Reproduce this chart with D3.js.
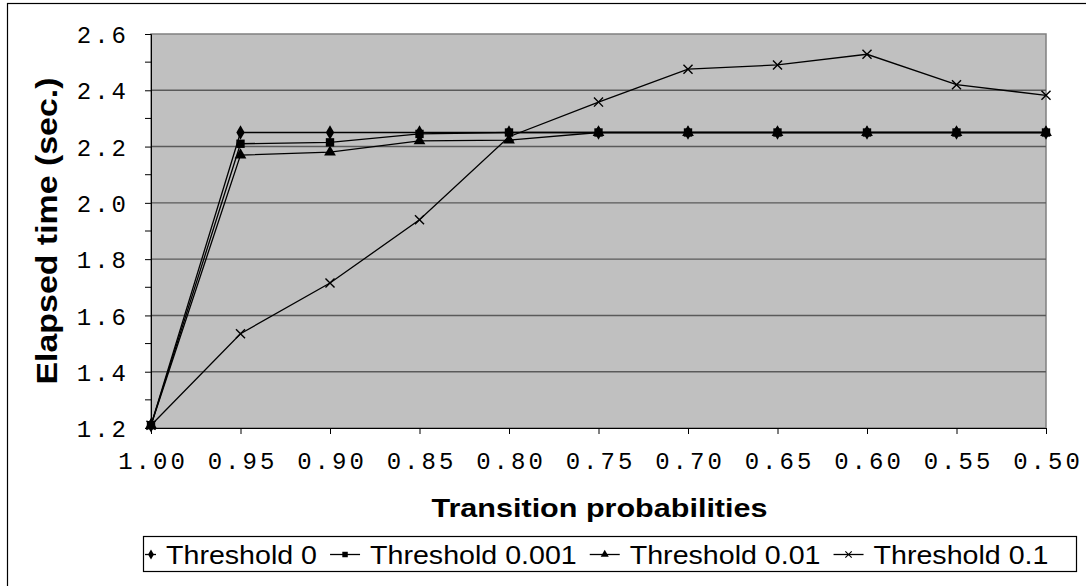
<!DOCTYPE html>
<html>
<head>
<meta charset="utf-8">
<script src="https://cdn.jsdelivr.net/npm/d3@7"></script>
<style>
  body { margin: 0; background: #fff; }
  svg { display: block; }
  .tick-label { font-family: "Liberation Mono", "Courier New", monospace; font-size: 24px; letter-spacing: 3px; fill: #000; }
  .axis-title { font-family: "Liberation Sans", Arial, sans-serif; font-weight: bold; fill: #000; }
  .legend-text { font-family: "Liberation Sans", Arial, sans-serif; font-size: 26px; fill: #000; }
</style>
</head>
<body>
<svg id="chart" width="1086" height="586"></svg>
<script>
// x categories (transition probabilities) and elapsed times per threshold
const probs = [ 1.00, 0.95, 0.90, 0.85, 0.80, 0.75, 0.70, 0.65, 0.60, 0.55, 0.50 ];
const threshold0 = [ 1.21, 2.25, 2.25, 2.25, 2.25, 2.25, 2.25, 2.25, 2.25, 2.25, 2.25 ];
const threshold0001 = [ 1.21, 2.21, 2.215, 2.245, 2.25, 2.25, 2.25, 2.25, 2.25, 2.25, 2.25 ];
const threshold001 = [ 1.21, 2.17, 2.18, 2.22, 2.223, 2.25, 2.25, 2.25, 2.25, 2.25, 2.25 ];
const threshold01 = [ 1.21, 1.535, 1.715, 1.94, 2.235, 2.358, 2.475, 2.49, 2.528, 2.42, 2.382 ];
const seriesNames = [ 'Threshold 0', 'Threshold 0.001', 'Threshold 0.01', 'Threshold 0.1' ];
const yTicks = [ 1.2, 1.4, 1.6, 1.8, 2.0, 2.2, 2.4, 2.6 ];
const yMinorTicks = [ 1.3, 1.5, 1.7, 1.9, 2.1, 2.3, 2.5 ];

const series = [
    { name: seriesNames[ 0 ], values: threshold0, marker: 'diamond' },
    { name: seriesNames[ 1 ], values: threshold0001, marker: 'square' },
    { name: seriesNames[ 2 ], values: threshold001, marker: 'triangle' },
    { name: seriesNames[ 3 ], values: threshold01, marker: 'cross' }
];

const plot = { left: 151, top: 34, right: 1046, bottom: 428 };
const svg = d3.select( '#chart' );

// outer chart frame (runs off the right and bottom edge)
svg.append( 'rect' )
    .attr( 'x', 7.5 ).attr( 'y', 3.5 )
    .attr( 'width', 1100 ).attr( 'height', 600 )
    .attr( 'fill', '#fff' ).attr( 'stroke', '#000' ).attr( 'stroke-width', 1.2 );

const xScale = d3.scaleLinear().domain( [ 1.0, 0.5 ] ).range( [ plot.left, plot.right ] );
const yScale = d3.scaleLinear().domain( [ 1.2, 2.6 ] ).range( [ plot.bottom, plot.top ] );

// plot area
svg.append( 'rect' )
    .attr( 'x', plot.left ).attr( 'y', plot.top )
    .attr( 'width', plot.right - plot.left ).attr( 'height', plot.bottom - plot.top )
    .attr( 'fill', '#c0c0c0' ).attr( 'stroke', '#808080' ).attr( 'stroke-width', 1.5 );

// gridlines
svg.append( 'g' ).selectAll( 'line' ).data( yTicks.slice( 1, -1 ) )
    .enter().append( 'line' )
    .attr( 'x1', plot.left ).attr( 'x2', plot.right )
    .attr( 'y1', d => yScale( d ) ).attr( 'y2', d => yScale( d ) )
    .attr( 'stroke', '#5a5a5a' ).attr( 'stroke-width', 1.4 );

// y axis
const yAxis = d3.axisLeft( yScale ).tickValues( yTicks ).tickSize( 6 ).tickPadding( 16 )
    .tickFormat( d3.format( '.1f' ) );
const yAxisGroup = svg.append( 'g' )
    .attr( 'transform', `translate(${plot.left},0)` )
    .call( yAxis );
yAxisGroup.append( 'g' ).selectAll( 'line' ).data( yMinorTicks )
    .enter().append( 'line' )
    .attr( 'x1', -6 ).attr( 'x2', 0 )
    .attr( 'y1', d => yScale( d ) ).attr( 'y2', d => yScale( d ) )
    .attr( 'stroke', '#000' );

// x axis
const xAxis = d3.axisBottom( xScale ).tickValues( probs ).tickSize( 6 ).tickPadding( 18 )
    .tickFormat( d3.format( '.2f' ) );
const xAxisGroup = svg.append( 'g' )
    .attr( 'transform', `translate(0,${plot.bottom})` )
    .call( xAxis );

[ yAxisGroup, xAxisGroup ].forEach( g => {
    g.select( '.domain' ).attr( 'stroke', '#000' ).attr( 'stroke-width', 1 );
    g.selectAll( '.tick line' ).attr( 'stroke', '#000' );
    g.selectAll( '.tick text' ).attr( 'class', 'tick-label' ).attr( 'font-size', null ).attr( 'font-family', null );
} );
yAxisGroup.selectAll( '.tick text' ).attr( 'dy', '0.36em' );
xAxisGroup.selectAll( '.tick text' ).attr( 'dy', '0.71em' ).attr( 'dx', 1.5 );

// series lines
const line = d3.line()
    .x( ( d, i ) => xScale( probs[ i ] ) )
    .y( d => yScale( d ) );

const symbolFor = {
    diamond: size => d3.symbol().type( d3.symbolDiamond ).size( size )(),
    square: size => d3.symbol().type( d3.symbolSquare ).size( size )(),
    triangle: size => d3.symbol().type( d3.symbolTriangle ).size( size )(),
    cross: size => d3.symbol().type( d3.symbolX ).size( size )()
};

series.forEach( s => {
    svg.append( 'path' )
        .attr( 'd', line( s.values ) )
        .attr( 'fill', 'none' )
        .attr( 'stroke', '#000' )
        .attr( 'stroke-width', 1.3 );
} );

series.forEach( s => {
    const size = { diamond: 60, square: 70, triangle: 60, cross: 55 }[ s.marker ];
    svg.append( 'g' ).selectAll( 'path' ).data( s.values )
        .enter().append( 'path' )
        .attr( 'transform', ( d, i ) => `translate(${xScale( probs[ i ] )},${yScale( d )})` )
        .attr( 'd', symbolFor[ s.marker ]( size ) )
        .attr( 'fill', s.marker === 'cross' ? 'none' : '#000' )
        .attr( 'stroke', '#000' )
        .attr( 'stroke-width', s.marker === 'cross' ? 1.4 : 0 );
} );

// axis titles
svg.append( 'text' )
    .attr( 'class', 'axis-title' )
    .attr( 'x', ( plot.left + plot.right ) / 2 + 1 )
    .attr( 'y', 517 )
    .attr( 'font-size', 26.5 )
    .attr( 'text-anchor', 'middle' )
    .attr( 'textLength', 336 )
    .attr( 'lengthAdjust', 'spacingAndGlyphs' )
    .text( 'Transition probabilities' );

svg.append( 'text' )
    .attr( 'class', 'axis-title' )
    .attr( 'transform', `translate(57,${( plot.top + plot.bottom ) / 2}) rotate(-90)` )
    .attr( 'font-size', 29 )
    .attr( 'text-anchor', 'middle' )
    .attr( 'textLength', 307 )
    .attr( 'lengthAdjust', 'spacingAndGlyphs' )
    .text( 'Elapsed time (sec.)' );

// legend
const legendBox = { x: 143, y: 536, w: 933, h: 35 };
const legend = svg.append( 'g' );
legend.append( 'rect' )
    .attr( 'x', legendBox.x + 0.5 ).attr( 'y', legendBox.y + 0.5 )
    .attr( 'width', legendBox.w ).attr( 'height', legendBox.h )
    .attr( 'fill', '#fff' ).attr( 'stroke', '#000' ).attr( 'stroke-width', 1.2 );

let cursor = 166; // start of first label
series.forEach( ( s, i ) => {
    const lineEnd = cursor - 10;
    const lineStart = Math.max( lineEnd - 30, legendBox.x + 2 );
    const cy = legendBox.y + legendBox.h / 2 + 1;
    legend.append( 'line' )
        .attr( 'x1', lineStart ).attr( 'x2', lineEnd )
        .attr( 'y1', cy ).attr( 'y2', cy )
        .attr( 'stroke', '#000' ).attr( 'stroke-width', 1.3 );
    const size = { diamond: 30, square: 30, triangle: 28, cross: 28 }[ s.marker ];
    legend.append( 'path' )
        .attr( 'transform', `translate(${i === 0 ? lineStart + 6 : ( lineStart + lineEnd ) / 2},${cy})` )
        .attr( 'd', symbolFor[ s.marker ]( size ) )
        .attr( 'fill', s.marker === 'cross' ? 'none' : '#000' )
        .attr( 'stroke', '#000' )
        .attr( 'stroke-width', s.marker === 'cross' ? 1.1 : 0 );
    const label = legend.append( 'text' )
        .attr( 'class', 'legend-text' )
        .attr( 'x', cursor )
        .attr( 'y', 564 )
        .text( s.name );
    const natural = label.node().getComputedTextLength();
    const stretched = natural * 1.1;
    label.attr( 'textLength', stretched ).attr( 'lengthAdjust', 'spacingAndGlyphs' );
    cursor += stretched + 13 + 30 + 10;
} );
</script>
</body>
</html>
